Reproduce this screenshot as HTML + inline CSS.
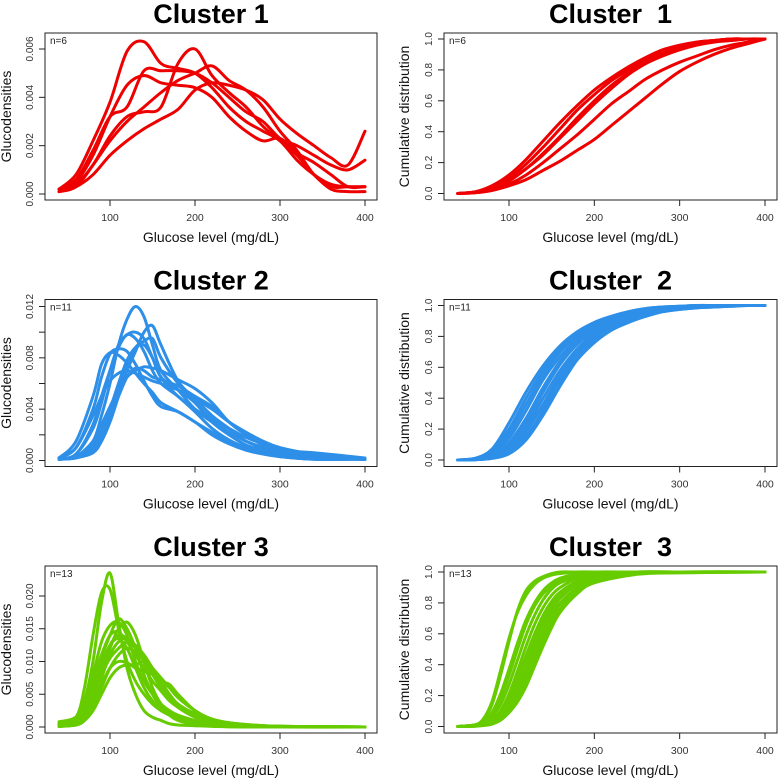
<!DOCTYPE html>
<html><head><meta charset="utf-8">
<style>
html,body{margin:0;padding:0;background:#fff;}
svg{display:block;font-family:"Liberation Sans",sans-serif;}
.ttl{white-space:pre;}
</style></head>
<body>
<svg id="chart" width="779" height="778" viewBox="0 0 779 778" xmlns="http://www.w3.org/2000/svg"></svg>
<script>
// ---------- DATA ----------
const gridA = [40,60,80,100,120,140,160,180,200,220,240,260,280,300,320,340,360,380,400];
const gridB = [40,60,80,90,100,110,120,130,140,150,160,180,200,220,240,260,280,300,340,400];
const gridC = [40,60,70,80,90,100,110,120,130,140,150,160,170,180,200,220,250,300,400];
const gridD = [40,60,70,80,90,100,110,120,130,140,150,160,180,200,250,300,400];

// cluster 1 densities (x0.001) on gridA
const c1dens = [
 [0.2,0.8,2.2,3.8,5.9,6.3,5.4,5.2,5.0,4.4,3.6,3.0,2.6,2.2,1.4,0.8,0.4,0.3,0.3],
 [0.1,0.4,1.2,2.4,3.2,3.4,3.6,5.4,6.0,4.9,4.2,3.6,2.8,2.2,1.6,0.8,0.2,0.1,0.1],
 [0.2,0.6,1.8,3.2,3.6,5.1,5.1,5.1,5.0,4.6,4.0,3.4,3.0,2.3,2.0,1.6,1.2,1.0,1.4],
 [0.1,0.5,1.6,3.2,4.5,4.9,4.6,4.5,4.4,4.0,3.2,2.6,2.2,2.3,1.7,1.3,0.8,0.3,0.3],
 [0.1,0.3,1.2,2.2,3.0,3.6,4.2,4.7,5.0,5.3,4.7,4.3,3.6,2.6,1.8,0.8,0.3,0.3,0.3],
 [0.1,0.3,0.8,1.6,2.2,2.7,3.1,3.5,4.3,4.6,4.5,4.3,3.9,3.1,2.5,2.0,1.5,1.2,2.6]
];
// cluster 1 CDF on gridA
const c1cdf = [
 [0,0.01,0.05,0.12,0.22,0.34,0.46,0.57,0.67,0.75,0.82,0.88,0.93,0.96,0.98,0.99,1,1,1],
 [0,0.01,0.04,0.10,0.19,0.30,0.42,0.54,0.64,0.73,0.80,0.87,0.91,0.95,0.98,0.99,1,1,1],
 [0,0.01,0.03,0.08,0.16,0.25,0.36,0.47,0.58,0.68,0.77,0.84,0.89,0.93,0.96,0.98,0.99,1,1],
 [0,0.01,0.04,0.09,0.16,0.26,0.37,0.49,0.60,0.70,0.78,0.85,0.90,0.94,0.97,0.99,1,1,1],
 [0,0.005,0.02,0.06,0.12,0.20,0.29,0.38,0.48,0.58,0.66,0.74,0.80,0.85,0.89,0.93,0.96,0.98,1],
 [0,0.005,0.02,0.05,0.09,0.15,0.21,0.28,0.35,0.44,0.53,0.62,0.71,0.79,0.85,0.90,0.94,0.97,1]
];
// cluster 2 densities (x0.001) on gridB
const c2dens = [
 [0.1,0.3,1.5,3.5,6,9,11,12,11.2,9,7,5.5,4,3,2.2,1.5,1,0.5,0.2,0.1],
 [0.1,0.2,0.6,1.5,3,5,7,8.5,10,10.5,9,6.2,4.8,3.5,2.5,1.5,1,0.6,0.3,0.1],
 [0.1,0.2,0.8,1.8,3.5,5.5,7.5,8.8,9.3,9.5,8,6,4.5,3.2,2.2,1.5,1,0.5,0.2,0.1],
 [0.1,0.5,2.5,4.5,7,9,9.8,10,9.5,8,6.5,5.5,4.5,3,2,1.2,0.8,0.4,0.2,0.1],
 [0.1,0.5,2.8,5,7,8.8,9.8,9.5,8.5,7,6,5,3.8,2.5,1.6,1,0.6,0.3,0.1,0.1],
 [0.2,1,4,6.5,8.3,8.7,8.5,7.5,6.2,5,4.2,3.8,3,2.2,1.5,1,0.6,0.3,0.2,0.1],
 [0.2,1.5,5,7.5,8.4,8.2,7.6,6.8,6,5.3,4.5,3.8,3,2,1.3,0.8,0.5,0.3,0.1,0.1],
 [0.1,0.3,1.5,2.8,4.2,5.5,6.5,7,7.3,7.2,7,6.3,5.6,4.5,3,2,1.2,0.7,0.5,0.1],
 [0.2,1,3.5,5,6.2,6.8,7,6.8,6.5,6.2,6,5.5,4.8,4,3,2.2,1.5,1,0.5,0.1],
 [0.1,0.3,1.2,2.5,4,6,7.8,8.8,9,8,6.5,5,4,3.2,2.5,1.8,1.3,0.8,0.6,0.2],
 [0.1,0.3,1,2,3.5,5,6.5,7.2,7,6.5,6.3,5.8,5,4.2,3,2.2,1.5,1,0.4,0.1]
];
// cluster 2 CDF on gridA
const c2cdf = [
 [0,0.01,0.06,0.20,0.40,0.58,0.72,0.82,0.89,0.93,0.96,0.98,0.99,0.995,1,1,1,1,1],
 [0,0.01,0.05,0.17,0.36,0.55,0.70,0.80,0.87,0.92,0.95,0.97,0.985,0.99,1,1,1,1,1],
 [0,0.01,0.07,0.24,0.44,0.61,0.74,0.83,0.89,0.93,0.96,0.98,0.99,0.995,1,1,1,1,1],
 [0,0.005,0.04,0.14,0.32,0.52,0.67,0.78,0.86,0.91,0.94,0.965,0.98,0.99,0.995,1,1,1,1],
 [0,0.005,0.03,0.11,0.27,0.47,0.64,0.76,0.85,0.90,0.94,0.96,0.98,0.99,0.995,1,1,1,1],
 [0,0.003,0.02,0.09,0.24,0.44,0.62,0.75,0.84,0.90,0.94,0.96,0.975,0.985,0.99,0.995,1,1,1],
 [0,0.003,0.02,0.08,0.21,0.40,0.58,0.72,0.82,0.88,0.92,0.95,0.97,0.98,0.99,0.995,1,1,1],
 [0,0.002,0.015,0.06,0.18,0.36,0.55,0.70,0.80,0.87,0.92,0.95,0.97,0.98,0.99,0.995,1,1,1],
 [0,0.002,0.012,0.05,0.15,0.32,0.52,0.68,0.79,0.86,0.91,0.94,0.96,0.98,0.99,0.995,1,1,1],
 [0,0.002,0.01,0.04,0.13,0.29,0.48,0.65,0.77,0.85,0.90,0.93,0.96,0.975,0.985,0.99,0.995,1,1],
 [0,0.002,0.015,0.07,0.19,0.35,0.51,0.65,0.76,0.84,0.89,0.93,0.96,0.975,0.985,0.99,0.995,1,1]
];
// cluster 3 densities (x0.001) on gridC
const c3dens = [
 [0.5,1,4,10,19,23.5,16,9,5,2.5,1.5,1,0.5,0.3,0.2,0.1,0,0,0],
 [0.3,1.5,6,14,20.5,21,15,10,7,5,3.5,2.5,1.8,1.2,0.6,0.3,0.1,0,0],
 [0.8,1.5,4,8,13,15.5,16,14,10,7,5,3.5,2.5,1.8,1,0.5,0.2,0.1,0],
 [0.2,0.8,2.5,6,10.5,14,16.5,15,12,8,5,3,1.8,1,0.4,0.2,0.1,0,0],
 [0.1,0.5,1.5,4,8,12,15,16,14,10,6,3.5,2,1.2,0.5,0.2,0.1,0,0],
 [0.5,1.5,3.5,7,11,14,14.5,13,11,9,7,5.5,4,3,1.5,0.8,0.3,0.1,0],
 [0.1,0.5,2,5,9,12.5,14,13.5,12,10.5,8.5,6.5,5,3.5,2,1,0.4,0.1,0],
 [0.1,0.3,1,3,6,9,11,12,11.5,10.5,9,7.5,6,4.5,2.5,1.2,0.5,0.1,0],
 [0.1,0.3,1,2.5,5,7.5,9,9.5,9.5,10,8.5,7,6.5,5,2.5,1.2,0.4,0.1,0],
 [0.2,0.8,2.5,5,8,10.5,12,13,12.5,11,9,7,5,3.5,1.8,0.8,0.3,0.1,0],
 [0.1,0.4,1.5,4,7.5,11,13,13.5,12,10,8,6,4.5,3,1.5,0.6,0.2,0,0],
 [0.3,1,3,6,9.5,12.5,13.5,12,9,6,4,2.8,2,1.5,0.9,0.5,0.2,0.1,0],
 [0.1,0.4,1.5,3.5,6.5,9,10,9.8,9,8.5,8,7,6,4.5,2.5,1.2,0.5,0.1,0]
];
// cluster 3 CDF on gridD
const c3cdf = [
 [0,0.01,0.04,0.14,0.33,0.55,0.75,0.88,0.94,0.97,0.99,1,1,1,1,1,1],
 [0,0.01,0.05,0.16,0.36,0.57,0.74,0.85,0.92,0.96,0.98,0.99,1,1,1,1,1],
 [0,0.01,0.03,0.09,0.21,0.37,0.54,0.69,0.80,0.88,0.93,0.96,0.99,1,1,1,1],
 [0,0.01,0.03,0.08,0.18,0.33,0.50,0.66,0.78,0.86,0.91,0.95,0.98,0.99,1,1,1],
 [0,0.005,0.02,0.06,0.14,0.27,0.43,0.59,0.72,0.82,0.89,0.93,0.97,0.99,1,1,1],
 [0,0.005,0.015,0.04,0.10,0.21,0.36,0.52,0.66,0.77,0.85,0.90,0.96,0.98,1,1,1],
 [0,0.005,0.015,0.04,0.09,0.18,0.31,0.46,0.60,0.72,0.81,0.87,0.94,0.97,0.995,1,1],
 [0,0.005,0.01,0.03,0.08,0.16,0.28,0.42,0.56,0.68,0.78,0.85,0.93,0.96,0.99,1,1],
 [0,0.003,0.01,0.03,0.07,0.14,0.25,0.38,0.52,0.65,0.75,0.83,0.92,0.96,0.99,1,1],
 [0,0.003,0.01,0.025,0.06,0.12,0.22,0.35,0.49,0.62,0.72,0.80,0.90,0.95,0.99,1,1],
 [0,0.003,0.01,0.02,0.05,0.11,0.20,0.32,0.46,0.59,0.70,0.79,0.89,0.94,0.99,1,1],
 [0,0.002,0.008,0.02,0.05,0.10,0.18,0.29,0.42,0.55,0.67,0.76,0.88,0.94,0.99,0.995,1],
 [0,0.002,0.006,0.015,0.04,0.09,0.16,0.26,0.39,0.52,0.64,0.74,0.86,0.93,0.985,0.995,1]
];
const xTicks = [100,200,300,400];
const densTicks1 = [0,0.002,0.004,0.006];
const densTicks2 = [0,0.002,0.004,0.006,0.008,0.010,0.012];
const densLabels2 = ["0.000","","0.004","","0.008","","0.012"];
const densTicks3 = [0,0.005,0.010,0.015,0.020];
const cdfTicks = [0,0.2,0.4,0.6,0.8,1.0];
const clusterTitles = ["Cluster 1","Cluster 2","Cluster 3"];
const clusterCounts = ["n=6","n=11","n=13"];

// ---------- DRAW ----------
const NS = "http://www.w3.org/2000/svg";
const svg = document.getElementById('chart');
function el(tag, attrs, parent){
  const e = document.createElementNS(NS, tag);
  for (const k in attrs) e.setAttribute(k, attrs[k]);
  (parent||svg).appendChild(e);
  return e;
}
function smoothPath(pts){
  let d = "M" + pts[0][0].toFixed(2) + "," + pts[0][1].toFixed(2);
  for (let i=0;i<pts.length-1;i++){
    const p0 = pts[Math.max(0,i-1)], p1 = pts[i], p2 = pts[i+1], p3 = pts[Math.min(pts.length-1,i+2)];
    const c1x = p1[0]+(p2[0]-p0[0])/6, c1y = p1[1]+(p2[1]-p0[1])/6;
    const c2x = p2[0]-(p3[0]-p1[0])/6, c2y = p2[1]-(p3[1]-p1[1])/6;
    d += " C"+c1x.toFixed(2)+","+c1y.toFixed(2)+" "+c2x.toFixed(2)+","+c2y.toFixed(2)+" "+p2[0].toFixed(2)+","+p2[1].toFixed(2);
  }
  return d;
}

function panel(cfg){
  const g = el('g', {});
  
  
  const L=cfg.L, R=cfg.R, T=cfg.T, B=cfg.B;
  const xs = v => cfg.x100 + (v-100)*(cfg.x400-cfg.x100)/300;
  const ys = v => cfg.y0 - (v-0)*(cfg.y0-cfg.yTop)/cfg.yTopVal;
  const t = el('text', {x:(L+R)/2, y:T-10, 'text-anchor':'middle','font-size':'27','font-weight':'bold',fill:'#000','class':'ttl'}, g);
  t.textContent = cfg.title;
  
  
  const sg = el('g', {}, g);
  
  
  cfg.series.forEach((s, si) => {
    const pts = s.map((v,i)=>[xs(cfg.grid[i]), ys(cfg.scale*v)]);
    const p = el('path', {d:smoothPath(pts), fill:'none', stroke:cfg.color,'stroke-width':'3','stroke-linejoin':'round','stroke-linecap':'round'}, sg);
    
    
  });
  const box = el('rect', {x:L, y:T, width:R-L, height:B-T, fill:'none', stroke:'#222','stroke-width':'1'}, g);
  
  
  const xa = el('g', {}, g);
  
  
  el('line',{x1:xs(xTicks[0]),x2:xs(xTicks[xTicks.length-1]),y1:B,y2:B,stroke:'#222'},xa);
  xTicks.forEach(v=>{
    el('line',{x1:xs(v),x2:xs(v),y1:B,y2:B+6,stroke:'#222'},xa);
    const tl = el('text',{x:xs(v),y:B+21,'text-anchor':'middle','font-size':'10.5',fill:'#333'},xa);
    tl.textContent = v;
    
    
  });
  const xt = el('text',{x:(L+R)/2,y:B+42,'text-anchor':'middle','font-size':'14',fill:'#111'},g);
  xt.textContent = "Glucose level (mg/dL)";
  
  
  const ya = el('g', {}, g);
  
  
  cfg.yTicks.forEach((v,i)=>{
    el('line',{x1:L,x2:L-6,y1:ys(v),y2:ys(v),stroke:'#222'},ya);
    const lab = cfg.yLabels[i];
    if (lab){
      const tl = el('text',{x:0,y:0,transform:'translate('+(L-12)+','+ys(v)+') rotate(-90)','text-anchor':'middle','font-size':'10',fill:'#333'},ya);
      tl.textContent = lab;
      
      
    }
  });
  const yt = el('text',{x:0,y:0,transform:'translate('+cfg.yTitleX+','+((T+B)/2)+') rotate(-90)','text-anchor':'middle','font-size':'14',fill:'#111'},g);
  yt.textContent = cfg.yTitle;
  
  
  const n = el('text',{x:L+5,y:T+11,'font-size':'10',fill:'#222'},g);
  n.textContent = cfg.n;
  
  
}

const colors = ["#EE0000","#2E8FE8","#66CC00"];
const densSets = [c1dens,c2dens,c3dens];
const densGrids = [gridA,gridB,gridC];
const cdfSets = [c1cdf,c2cdf,c3cdf];
const cdfGrids = [gridA,gridA,gridD];
const dTicks = [densTicks1,densTicks2,densTicks3];
const dLabels = [["0.000","0.002","0.004","0.006"],densLabels2,["0.000","0.005","0.010","0.015","0.020"]];
const dTopVal = [0.006,0.012,0.020];
const dTopPix = [49,40,63];
for (let r=0;r<3;r++){
  const off = r*266.5;
  panel({name:'density-panel-cluster-'+(r+1), L:45,R:377,T:33+off,B:200+off,
    x100:110,x400:365, y0:194+off, yTop:dTopPix[r]+off, yTopVal:dTopVal[r],
    grid:densGrids[r], series:densSets[r], scale:0.001, color:colors[r],
    title:clusterTitles[r], n:clusterCounts[r], yTicks:dTicks[r], yLabels:dLabels[r],
    yTitle:'Glucodensities', yTitleX:11});
  panel({name:'cdf-panel-cluster-'+(r+1), L:444,R:777,T:33+off,B:200+off,
    x100:509,x400:765, y0:193.5+off, yTop:39+off, yTopVal:1,
    grid:cdfGrids[r], series:cdfSets[r], scale:1, color:colors[r],
    title:clusterTitles[r].replace(' ','  '), n:clusterCounts[r], yTicks:cdfTicks, yLabels:cdfTicks.map(v=>v.toFixed(1)),
    yTitle:'Cumulative distribution', yTitleX:409});
}
</script>
</body></html>
